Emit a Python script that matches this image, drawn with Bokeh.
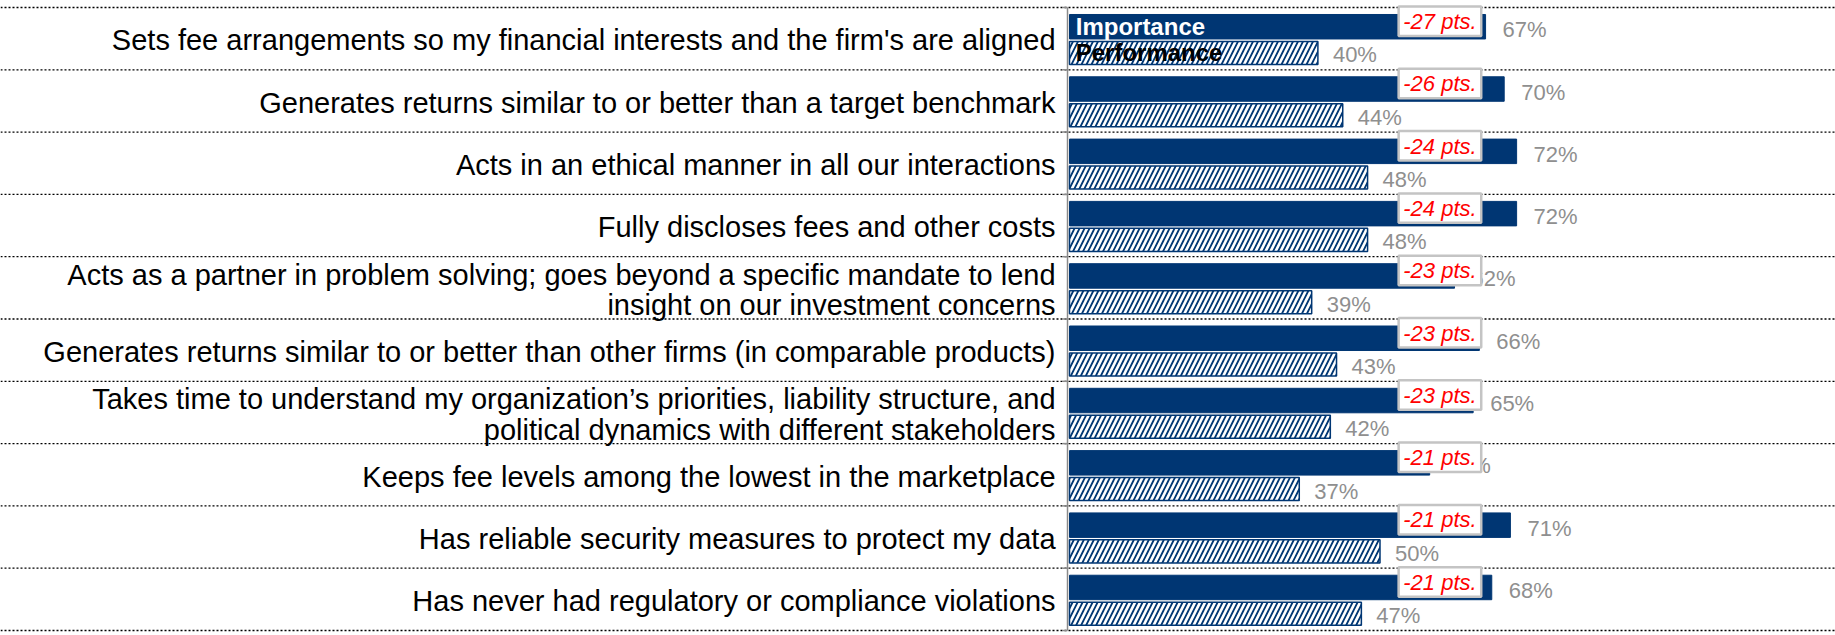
import numpy as np
from bokeh.plotting import figure
from bokeh.models import Range1d, ColumnDataSource
from bokeh.core.properties import value
from bokeh.embed import file_html
from bokeh.resources import INLINE

# ---------------- data ----------------
labels = [
    "Sets fee arrangements so my financial interests and the firm's are aligned",
    "Generates returns similar to or better than a target benchmark",
    "Acts in an ethical manner in all our interactions",
    "Fully discloses fees and other costs",
    "Acts as a partner in problem solving; goes beyond a specific mandate to lend\ninsight on our investment concerns",
    "Generates returns similar to or better than other firms (in comparable products)",
    "Takes time to understand my organization\u2019s priorities, liability structure, and\npolitical dynamics with different stakeholders",
    "Keeps fee levels among the lowest in the marketplace",
    "Has reliable security measures to protect my data",
    "Has never had regulatory or compliance violations",
]
importance = [67, 70, 72, 72, 62, 66, 65, 58, 71, 68]
performance = [40, 44, 48, 48, 39, 43, 42, 37, 50, 47]
series_names = ["Importance", "Performance"]

# ---------------- styling ----------------
NAVY = "#003673"
GRAY = "#8f8f8f"
FONT = value("Liberation Sans")

W, H = 1835, 635
PX_PER_PCT = 6.21
ZERO_PX = 1069
x_start = -ZERO_PX / PX_PER_PCT
x_end = (W - ZERO_PX) / PX_PER_PCT

n = len(labels)
rows = np.arange(n)

p = figure(width=W, height=H, output_backend="svg", toolbar_location=None,
           x_range=Range1d(x_start, x_end), y_range=Range1d(n + 0.080, -0.112),
           min_border=0, min_border_left=0, min_border_right=0,
           min_border_top=0, min_border_bottom=0)
p.xaxis.visible = False
p.yaxis.visible = False
p.xgrid.visible = False
p.ygrid.visible = False
p.outline_line_color = None
p.background_fill_color = "white"
p.border_fill_color = "white"

# dotted separators
seps = np.arange(n + 1)
p.segment(x0=[x_start] * len(seps), x1=[x_end] * len(seps), y0=seps, y1=seps,
          line_color="black", line_width=1.3, line_dash="2 2")

# vertical axis line and ticks
ax_x = -0.32
p.segment(x0=[ax_x], x1=[ax_x], y0=[0], y1=[n], line_color="#8a8a8a", line_width=1.5)
p.segment(x0=[ax_x - 0.8] * len(seps), x1=[ax_x] * len(seps), y0=seps, y1=seps,
          line_color="#8a8a8a", line_width=1.5)

imp_y = rows + 0.309
perf_y = rows + 0.73

box_left, box_right = 53.0, 66.3

src = ColumnDataSource(dict(
    imp_y=imp_y, perf_y=perf_y, imp=importance, perf=performance,
    imp_lbl=[f"{v}%" for v in importance],
    perf_lbl=[f"{v}%" for v in performance],
    gap_lbl=[f"{pf - im} pts." for im, pf in zip(importance, performance)],
    lab_y=rows + 0.53, labels=labels,
    box_top=rows - 0.016, box_bot=rows + 0.457, box_mid=rows + 0.225,
))

# bars
p.hbar(y="imp_y", left=0, right="imp", height=0.393, source=src,
       fill_color=NAVY, line_color=NAVY, line_width=1)
p.hbar(y="perf_y", left=0, right="perf", height=0.37, source=src,
       fill_color="white", line_color=NAVY, line_width=1.5,
       hatch_pattern="/", hatch_color=NAVY, hatch_scale=10, hatch_weight=1.8)

# category labels
p.text(x=-2.25, y="lab_y", text="labels", source=src, text_font=FONT,
       text_font_size="29px", text_align="right", text_baseline="middle",
       text_color="black", text_line_height=0.95)

# value labels
p.text(x="imp", y="imp_y", text="imp_lbl", source=src, x_offset=17, y_offset=3,
       text_font=FONT, text_font_size="22px", text_baseline="middle",
       text_color=GRAY)
p.text(x="perf", y="perf_y", text="perf_lbl", source=src, x_offset=15, y_offset=2,
       text_font=FONT, text_font_size="22px", text_baseline="middle",
       text_color=GRAY)

# gap boxes
p.quad(left=box_left, right=box_right, top="box_top", bottom="box_bot", source=src,
       fill_color="white", line_color="#c4c4c4", line_width=2.5)
p.text(x=(box_left + box_right) / 2, y="box_mid", text="gap_lbl", source=src,
       text_font=FONT, text_font_size="22px", text_font_style="italic",
       text_align="center", text_baseline="middle", text_color="#ff0000")

# in-bar series names on the first row
p.text(x=[1.0], y=[imp_y[0]], text=[series_names[0]], text_font=FONT,
       text_font_size="24px", text_font_style="bold", text_baseline="middle",
       text_color="white")
p.text(x=[1.0], y=[perf_y[0]], text=[series_names[1]], text_font=FONT,
       text_font_size="24px", text_font_style="bold", text_baseline="middle",
       text_color="black")

open("out.html", "w").write(file_html(p, INLINE))
